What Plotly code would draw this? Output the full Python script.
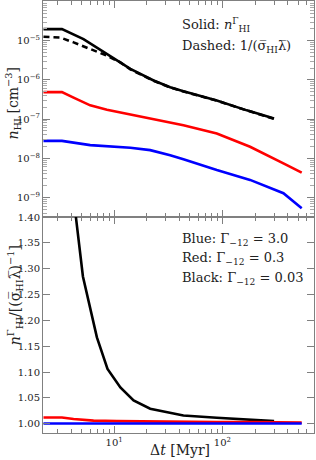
import plotly.graph_objects as go

# ---- data ----
t_black = [2.22, 3.29, 5.2, 8.57, 14.1, 23.1, 32.9, 43.6, 88.7, 168, 300]
n_black_solid = [1.98e-5, 1.98e-5, 1.1e-5, 4.6e-6, 1.91e-6, 9.7e-7, 6.5e-7, 5.16e-7, 3.0e-7, 1.67e-7, 1.03e-7]

t_dashed = [2.22, 3.17, 4.21, 6.0, 8.57, 11.4, 14.1, 23.1, 32.9, 43.6, 88.7, 168, 300]
n_black_dashed = [1.26e-5, 1.21e-5, 9.1e-6, 6.15e-6, 4.16e-6, 2.81e-6, 1.86e-6, 9.5e-7, 6.4e-7, 5.08e-7, 2.96e-7, 1.66e-7, 1.02e-7]

t_red = [2.22, 3.29, 4.21, 6.0, 8.57, 14.1, 21.5, 32.9, 43.6, 88.7, 180, 366, 540]
n_red = [4.88e-7, 4.88e-7, 3.52e-7, 2.24e-7, 1.74e-7, 1.32e-7, 1.06e-7, 8.5e-8, 6.97e-8, 4.28e-8, 1.96e-8, 7.4e-9, 4.3e-9]

t_blue = [2.22, 3.29, 6.0, 14.1, 21.5, 32.9, 43.6, 88.7, 180, 366, 540]
n_blue = [2.78e-8, 2.78e-8, 2.16e-8, 1.85e-8, 1.61e-8, 1.2e-8, 9.4e-9, 5.0e-9, 2.8e-9, 1.28e-9, 5.3e-10]

t_ratio_black = [2.22, 3.29, 4.46, 5.14, 6.92, 8.67, 11.4, 15.1, 21.5, 43.6, 88.7, 300]
r_black = [1.57, 1.64, 1.394, 1.285, 1.167, 1.106, 1.070, 1.045, 1.029, 1.016, 1.0115, 1.005]

t_ratio_red = [2.22, 3.29, 4.21, 6.44, 10.6, 21.5, 43.6, 88.7, 180, 366, 540]
r_red = [1.012, 1.012, 1.009, 1.006, 1.005, 1.004, 1.004, 1.003, 1.003, 1.002, 1.002]

t_ratio_blue = [2.22, 3.29, 10.6, 43.6, 180, 540]
r_blue = [1.0003, 1.0003, 1.0003, 1.0003, 1.0003, 1.0003]

x_tickvals = [10, 100]
x_ticktext = ["10<sup>1</sup>", "10<sup>2</sup>"]
y_top_tickvals = [1e-9, 1e-8, 1e-7, 1e-6, 1e-5]
y_top_ticktext = ["10<sup>\u22129</sup>", "10<sup>\u22128</sup>", "10<sup>\u22127</sup>",
                  "10<sup>\u22126</sup>", "10<sup>\u22125</sup>"]
y_bot_tickvals = [1.00, 1.05, 1.10, 1.15, 1.20, 1.25, 1.30, 1.35, 1.40]

x_minor = [m * 10 ** e for e in range(0, 3) for m in range(2, 10)]
y_minor = [m * 10 ** e for e in range(-11, -3) for m in range(2, 10)]

SERIF = "DejaVu Serif"
TXT = "#222222"
AX = "#808080"

fig = go.Figure()
lw = 2.6
fig.add_trace(go.Scatter(x=t_black, y=n_black_solid, mode="lines", line=dict(color="black", width=lw), xaxis="x", yaxis="y"))
fig.add_trace(go.Scatter(x=t_dashed, y=n_black_dashed, mode="lines", line=dict(color="black", width=lw, dash="6px,4px"), xaxis="x", yaxis="y"))
fig.add_trace(go.Scatter(x=t_red, y=n_red, mode="lines", line=dict(color="red", width=lw), xaxis="x", yaxis="y"))
fig.add_trace(go.Scatter(x=t_blue, y=n_blue, mode="lines", line=dict(color="blue", width=lw), xaxis="x", yaxis="y"))

fig.add_trace(go.Scatter(x=t_ratio_black, y=r_black, mode="lines", line=dict(color="black", width=lw), xaxis="x2", yaxis="y2"))
fig.add_trace(go.Scatter(x=t_ratio_red, y=r_red, mode="lines", line=dict(color="red", width=lw), xaxis="x2", yaxis="y2"))
fig.add_trace(go.Scatter(x=t_ratio_blue, y=r_blue, mode="lines", line=dict(color="blue", width=lw), xaxis="x2", yaxis="y2"))

xcommon = dict(type="log", range=[0.342, 2.846], showgrid=False, zeroline=False, automargin=False,
               showline=True, linecolor=AX, linewidth=1, mirror="ticks",
               ticks="inside", ticklen=7, tickcolor=AX, tickwidth=1,
               tickvals=x_tickvals, ticktext=x_ticktext,
               minor=dict(tickvals=x_minor, ticks="inside", ticklen=4, tickcolor=AX, tickwidth=1, showgrid=False),
               tickfont=dict(family=SERIF, size=10, color=TXT))

fig.update_layout(
    width=316, height=460,
    margin=dict(l=43, r=2, t=1, b=27),
    plot_bgcolor="white", paper_bgcolor="white",
    showlegend=False,
    font=dict(family=SERIF, color=TXT),
    xaxis=dict(**xcommon, domain=[0, 1], anchor="y", showticklabels=False, matches="x2"),
    xaxis2=dict(**xcommon, domain=[0, 1], anchor="y2"),
    yaxis=dict(type="log", range=[-9.5, -3.985], domain=[0.5, 1], anchor="x", automargin=False,
               showgrid=False, zeroline=False, showline=True, linecolor=AX, linewidth=1, mirror="ticks",
               ticks="inside", ticklen=7, tickcolor=AX, tickwidth=1,
               tickvals=y_top_tickvals, ticktext=y_top_ticktext,
               minor=dict(tickvals=y_minor, ticks="inside", ticklen=4, tickcolor="#aaaaaa", tickwidth=1, showgrid=False),
               tickfont=dict(family=SERIF, size=10, color=TXT)),
    yaxis2=dict(range=[0.982, 1.40], domain=[0, 0.5], anchor="x2", automargin=False,
                showgrid=False, zeroline=False, showline=True, linecolor=AX, linewidth=1, mirror="ticks",
                ticks="inside", ticklen=7, tickcolor=AX, tickwidth=1,
                tickvals=y_bot_tickvals, tickformat=".2f",
                tickfont=dict(family=SERIF, size=10, color=TXT)),
)

# axis titles as annotations (paper coords)
titles = [
    ("<i>n</i><sub>HI</sub> [cm<sup>\u22123</sup>]", -0.112, 0.762, -90),
    ("<i>n</i><sup>\u0393</sup><sub>HI</sub>/[(\u03c3\u0305<sub>HI</sub>\u03bb\u0305)<sup>\u22121</sup>]", -0.105, 0.318, -90),
    ("\u0394<i>t</i> [Myr]", 0.506, -0.040, 0),
]
for text, xx, yy, ang in titles:
    fig.add_annotation(text=text, xref="paper", yref="paper", x=xx, y=yy, textangle=ang,
                       xanchor="center", yanchor="middle", showarrow=False,
                       font=dict(family=SERIF, size=14, color=TXT))

ann = [
    ("Solid: <i>n</i><sup>\u0393</sup><sub>HI</sub>", 0.944),
    ("Dashed: 1/(\u03c3\u0305<sub>HI</sub>\u03bb\u0305)", 0.895),
    ("Blue: \u0393<sub>\u221212</sub> = 3.0", 0.447),
    ("Red: \u0393<sub>\u221212</sub> = 0.3", 0.405),
    ("Black: \u0393<sub>\u221212</sub> = 0.03", 0.358),
]
for text, yy in ann:
    fig.add_annotation(text=text, xref="paper", yref="paper", x=0.507, y=yy,
                       xanchor="left", yanchor="middle", showarrow=False,
                       font=dict(family=SERIF, size=13, color=TXT))

fig.write_html("out.html", config={"displayModeBar": False},
               post_script="document.body.style.margin='0';document.body.style.padding='0';")
